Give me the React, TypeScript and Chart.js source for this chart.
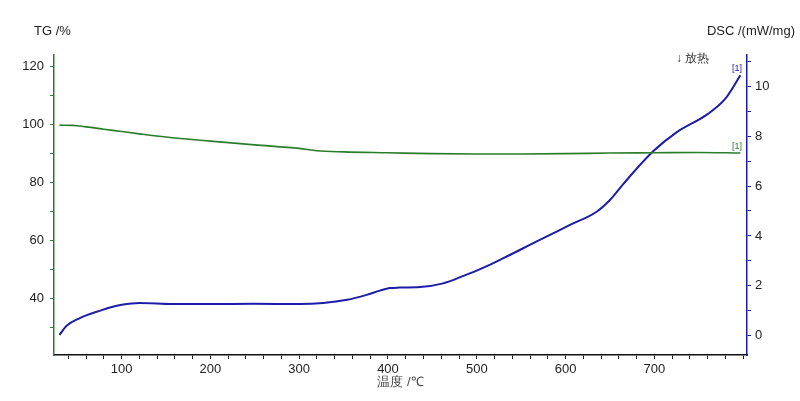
import React, { useEffect, useRef } from "react";
import { Chart, registerables } from "chart.js";

Chart.register(...registerables);

const tgTemps = [30, 45, 60, 80, 100, 120, 150, 200, 250, 300, 320, 350, 400, 450, 500, 550, 600, 650, 700, 750, 797];
const tgValues = [99.7, 99.6, 99.1, 98.3, 97.5, 96.7, 95.6, 94.2, 92.9, 91.7, 90.9, 90.5, 90.2, 89.9, 89.8, 89.8, 89.9, 90.1, 90.2, 90.3, 90.1];

const dscTemps = [30, 38, 53, 76, 91, 100, 120, 158, 200, 248, 300, 327, 354, 376, 391, 402, 413, 436, 462, 485, 507, 530, 567, 605, 635, 650, 665, 699, 725, 760, 780, 797];
const dscValues = [0.04, 0.4, 0.71, 1.01, 1.17, 1.24, 1.31, 1.27, 1.27, 1.28, 1.27, 1.31, 1.44, 1.64, 1.81, 1.91, 1.93, 1.95, 2.1, 2.4, 2.72, 3.11, 3.77, 4.44, 4.97, 5.44, 6.08, 7.4, 8.15, 8.88, 9.5, 10.44];

const xLabels = [100, 200, 300, 400, 500, 600, 700];
const tgLabels = [40, 60, 80, 100, 120];
const dscLabels = [0, 2, 4, 6, 8, 10];

const GREEN = "#2a7d2a";
const BLUE = "#1c1ca8";
const FONT = "'Liberation Sans', Arial, sans-serif";

const near = (v: number, list: number[]) => list.some((l) => Math.abs(l - v) < 1e-6);

const textPlugin = {
  id: "extraText",
  afterDraw(chart: any) {
    const ctx = chart.ctx;
    const area = chart.chartArea;
    ctx.save();
    ctx.font = `13px ${FONT}`;
    ctx.fillStyle = "#222";
    ctx.textBaseline = "middle";
    ctx.textAlign = "left";
    ctx.fillText("TG /%", 34, 31);
    ctx.textAlign = "right";
    ctx.fillText("DSC /(mW/mg)", 795, 31);
    ctx.textAlign = "center";
    ctx.fillStyle = "#444";
    ctx.fillText("温度 /℃", (area.left + area.right) / 2, 382);
    ctx.font = `12px ${FONT}`;
    ctx.fillStyle = "#333";
    ctx.textAlign = "left";
    ctx.fillText("\u2193 放热", 676, 59);
    ctx.font = `9px ${FONT}`;
    ctx.textAlign = "right";
    ctx.fillStyle = BLUE;
    ctx.fillText("[1]", area.right - 5, 69);
    ctx.fillStyle = GREEN;
    ctx.fillText("[1]", area.right - 5, 147);
    ctx.restore();
  },
};

export default function App() {
  const ref = useRef<HTMLCanvasElement | null>(null);
  useEffect(() => {
    if (!ref.current) return;
    const chart = new Chart(ref.current, {
      type: "line",
      data: {
        datasets: [
          {
            label: "TG",
            data: tgTemps.map((t, i) => ({ x: t, y: tgValues[i] })),
            borderColor: GREEN,
            borderWidth: 1.6,
            pointRadius: 0,
            cubicInterpolationMode: "monotone",
            yAxisID: "yTG",
          },
          {
            label: "DSC",
            data: dscTemps.map((t, i) => ({ x: t, y: dscValues[i] })),
            borderColor: BLUE,
            borderWidth: 2,
            pointRadius: 0,
            cubicInterpolationMode: "monotone",
            yAxisID: "yDSC",
          },
        ],
      },
      options: {
        animation: false,
        responsive: false,
        layout: { padding: { top: 55, left: 0, right: 0, bottom: 0 } },
        plugins: { legend: { display: false }, tooltip: { enabled: false } },
        scales: {
          x: {
            type: "linear",
            min: 23.8,
            max: 804.4,
            border: { color: "#111", width: 1.5 },
            grid: { drawOnChartArea: false, tickLength: 4, color: "#111" },
            ticks: {
              stepSize: 20,
              autoSkip: false,
              includeBounds: false,
              padding: 3,
              color: "#222",
              font: { family: FONT, size: 13 },
              maxRotation: 0,
              callback: (v: any) => (near(v, xLabels) ? String(Math.round(v)) : ""),
            },
            afterFit: (s: any) => {
              s.height = 46;
            },
          },
          yTG: {
            type: "linear",
            position: "left",
            min: 20.7,
            max: 123.8,
            border: { color: GREEN, width: 1.5 },
            grid: { drawOnChartArea: false, tickLength: 4, color: GREEN },
            ticks: {
              stepSize: 10,
              autoSkip: false,
              includeBounds: false,
              padding: 6,
              color: "#222",
              font: { family: FONT, size: 13 },
              callback: (v: any) => (near(v, tgLabels) ? String(Math.round(v)) : ""),
            },
            afterFit: (s: any) => {
              s.width = 54;
            },
          },
          yDSC: {
            type: "linear",
            position: "right",
            min: -0.77,
            max: 11.25,
            border: { color: BLUE, width: 1.5 },
            grid: { drawOnChartArea: false, tickLength: 4, color: BLUE },
            ticks: {
              stepSize: 1,
              autoSkip: false,
              includeBounds: false,
              padding: 4,
              color: "#222",
              font: { family: FONT, size: 13 },
              callback: (v: any) => (near(v, dscLabels) ? String(Math.round(v)) : ""),
            },
            afterFit: (s: any) => {
              s.width = 53;
            },
          },
        },
      } as any,
      plugins: [textPlugin],
    });
    return () => chart.destroy();
  }, []);
  return (
    <div style={{ position: "fixed", left: 0, top: 0, width: 800, height: 401, background: "#fff" }}>
      <canvas ref={ref} width={800} height={401} style={{ width: 800, height: 401 }} />
    </div>
  );
}
